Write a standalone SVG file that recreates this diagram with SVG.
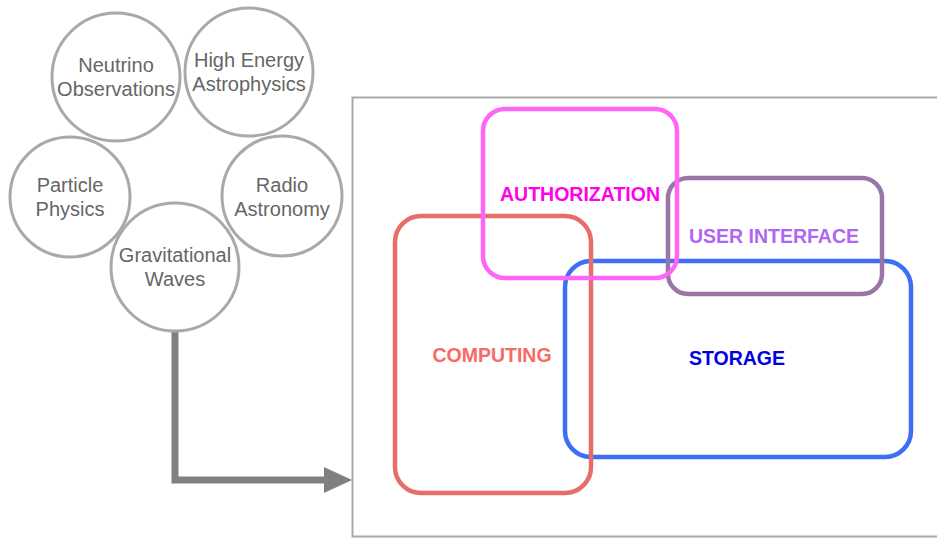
<svg xmlns="http://www.w3.org/2000/svg" width="937" height="538" viewBox="0 0 937 538">
<style>
.c{fill:#fff;stroke:#a9a9a9;stroke-width:3}
.ct{font-family:"Liberation Sans",Arial,sans-serif;font-size:20px;fill:#666;text-anchor:middle}
.r{fill:none;stroke-width:4.5}
.lb{font-family:"Liberation Sans",Arial,sans-serif;font-size:19.5px;font-weight:bold;text-anchor:middle}
</style>
<defs>
<marker id="ah" markerUnits="userSpaceOnUse" markerWidth="32" markerHeight="28" refX="4" refY="14" orient="auto">
<path d="M2,1 L30,14 L2,27 Z" fill="#808080"/>
</marker>
</defs>
<rect x="352.5" y="97.5" width="600" height="439" fill="#fff" stroke="#a9a9a9" stroke-width="2"/>
<g id="connectors">
<path d="M175,331 V480 H326" fill="none" stroke="#808080" stroke-width="7" marker-end="url(#ah)"/>
</g>
<g id="neutrino"><circle class="c" cx="116" cy="77" r="64"/><text class="ct" x="116" y="72">Neutrino</text><text class="ct" x="116" y="96">Observations</text></g>
<g id="highenergy"><circle class="c" cx="249" cy="72" r="64"/><text class="ct" x="249" y="67">High Energy</text><text class="ct" x="249" y="91">Astrophysics</text></g>
<g id="particle"><circle class="c" cx="70" cy="197" r="60"/><text class="ct" x="70" y="192">Particle</text><text class="ct" x="70" y="216">Physics</text></g>
<g id="radio"><circle class="c" cx="282" cy="196" r="60"/><text class="ct" x="282" y="192">Radio</text><text class="ct" x="282" y="216">Astronomy</text></g>
<g id="gravitational"><circle class="c" cx="175" cy="267" r="64"/><text class="ct" x="175" y="262">Gravitational</text><text class="ct" x="175" y="286">Waves</text></g>
<g id="storage"><rect class="r" x="565" y="261" width="346" height="196" rx="26" stroke="#3d6ef5"/><text class="lb" x="737" y="365" fill="#0000e0">STORAGE</text></g>
<g id="userinterface"><rect class="r" x="668" y="178" width="214" height="116" rx="20" stroke="#9a76a6"/><text class="lb" x="774" y="243" fill="#b066f5">USER INTERFACE</text></g>
<g id="computing"><rect class="r" x="395" y="216" width="196" height="277" rx="26" stroke="#e86d68"/><text class="lb" x="492" y="362" fill="#f86a66">COMPUTING</text></g>
<g id="authorization"><rect class="r" x="483" y="109" width="194" height="169" rx="22" stroke="#ff66f7"/><text class="lb" x="580" y="201" fill="#ff00e8">AUTHORIZATION</text></g>
</svg>
